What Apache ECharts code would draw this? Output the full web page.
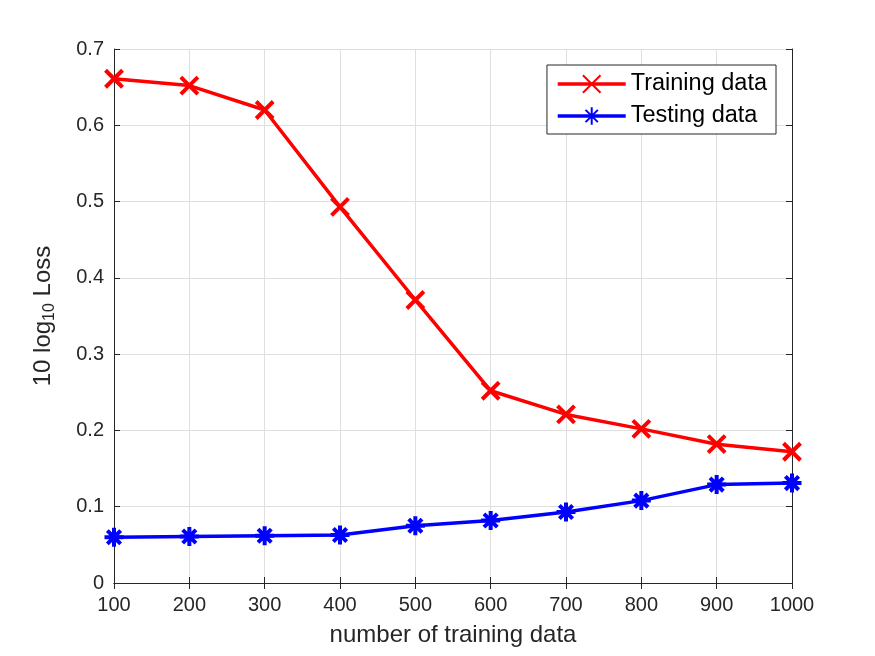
<!DOCTYPE html>
<html>
<head>
<meta charset="utf-8">
<script src="https://cdn.jsdelivr.net/npm/echarts@6/dist/echarts.min.js"></script>
<style>
  html, body { margin: 0; padding: 0; background: #fff; }
  #chart { width: 875px; height: 656px; }
</style>
</head>
<body>
<div id="chart"></div>
<script>
    'use strict';

    // data
    var trainSizes = [100, 200, 300, 400, 500, 600, 700, 800, 900, 1000];
    var trainingLoss = [0.661, 0.652, 0.620, 0.493, 0.371, 0.252, 0.221, 0.202, 0.182, 0.172];
    var testingLoss = [0.060, 0.061, 0.062, 0.063, 0.075, 0.082, 0.093, 0.108, 0.129, 0.131];

    function pairs(xs, ys) {
        var out = [];
        for (var i = 0; i < xs.length; i++) {
            out.push([xs[i], ys[i]]);
        }
        return out;
    }

    var font = 'Liberation Sans, Arial, sans-serif';
    var crossPath = 'path://M0,0 L10,10 M10,0 L0,10';
    var starPath = 'path://M5,0 L5,10 M0,5 L10,5 M1.5,1.5 L8.5,8.5 M8.5,1.5 L1.5,8.5';

    var myChart = echarts.init(document.getElementById('chart'));

    var option = {
        backgroundColor: '#fff',
        animation: false,
        grid: {
            left: 114,
            right: 83,
            top: 49,
            bottom: 73
        },
        legend: {
            right: 99,
            top: 65,
            orient: 'vertical',
            backgroundColor: '#fff',
            borderColor: '#262626',
            borderWidth: 1,
            borderRadius: 0,
            padding: [7, 9, 6, 9],
            itemGap: 8,
            itemWidth: 68,
            itemHeight: 22,
            lineStyle: { width: 3.5 },
            textStyle: { fontFamily: font, fontSize: 23.5, color: '#000' },
            data: ['Training data', 'Testing data']
        },
        xAxis: [{
            type: 'value',
            min: 100,
            max: 1000,
            interval: 100,
            name: 'number of training data',
            nameLocation: 'middle',
            nameGap: 40,
            nameTextStyle: { fontFamily: font, fontSize: 24, color: '#262626' },
            axisLine: { lineStyle: { color: '#262626', width: 1 } },
            axisTick: { inside: true, length: 6, lineStyle: { color: '#262626' } },
            axisLabel: {
                fontFamily: font, fontSize: 20, color: '#262626', margin: 12,
                formatter: function (v) { return String(v); }
            },
            splitLine: { show: true, lineStyle: { color: '#dfdfdf', width: 1 } }
        }, {
            type: 'value',
            position: 'top',
            min: 100,
            max: 1000,
            interval: 100,
            axisLine: { show: true, lineStyle: { color: '#262626', width: 1 } },
            axisTick: { show: true, inside: true, length: 6, lineStyle: { color: '#262626' } },
            axisLabel: { show: false },
            splitLine: { show: false }
        }],
        yAxis: [{
            type: 'value',
            min: 0,
            max: 0.7,
            interval: 0.1,
            name: '{n|10 log}{s|10}{n| Loss}',
            nameLocation: 'middle',
            nameGap: 56,
            nameRotate: 90,
            nameTextStyle: {
                color: '#262626',
                rich: {
                    n: { fontFamily: font, fontSize: 24, color: '#262626' },
                    s: { fontFamily: font, fontSize: 16, color: '#262626', verticalAlign: 'bottom', padding: [13, 0, 0, 0] }
                }
            },
            axisLine: { show: true, lineStyle: { color: '#262626', width: 1 } },
            axisTick: { show: true, inside: true, length: 6, lineStyle: { color: '#262626' } },
            axisLabel: {
                fontFamily: font, fontSize: 20, color: '#262626', margin: 10,
                formatter: function (v) { return v === 0 ? '0' : String(+v.toFixed(1)); }
            },
            splitLine: { show: true, lineStyle: { color: '#dfdfdf', width: 1 } }
        }, {
            type: 'value',
            position: 'right',
            min: 0,
            max: 0.7,
            interval: 0.1,
            axisLine: { show: true, lineStyle: { color: '#262626', width: 1 } },
            axisTick: { show: true, inside: true, length: 6, lineStyle: { color: '#262626' } },
            axisLabel: { show: false },
            splitLine: { show: false }
        }],
        series: [
            {
                name: 'Training data',
                type: 'line',
                data: pairs(trainSizes, trainingLoss),
                symbol: crossPath,
                symbolSize: 17,
                showAllSymbol: true,
                lineStyle: { color: '#ff0000', width: 3.5 },
                itemStyle: { color: '#ff0000', borderColor: '#ff0000', borderWidth: 4 }
            },
            {
                name: 'Testing data',
                type: 'line',
                data: pairs(trainSizes, testingLoss),
                symbol: starPath,
                symbolSize: 19,
                showAllSymbol: true,
                lineStyle: { color: '#0000ff', width: 3.5 },
                itemStyle: { color: '#0000ff', borderColor: '#0000ff', borderWidth: 4 }
            }
        ]
    };

    myChart.setOption(option);
</script>
</body>
</html>
